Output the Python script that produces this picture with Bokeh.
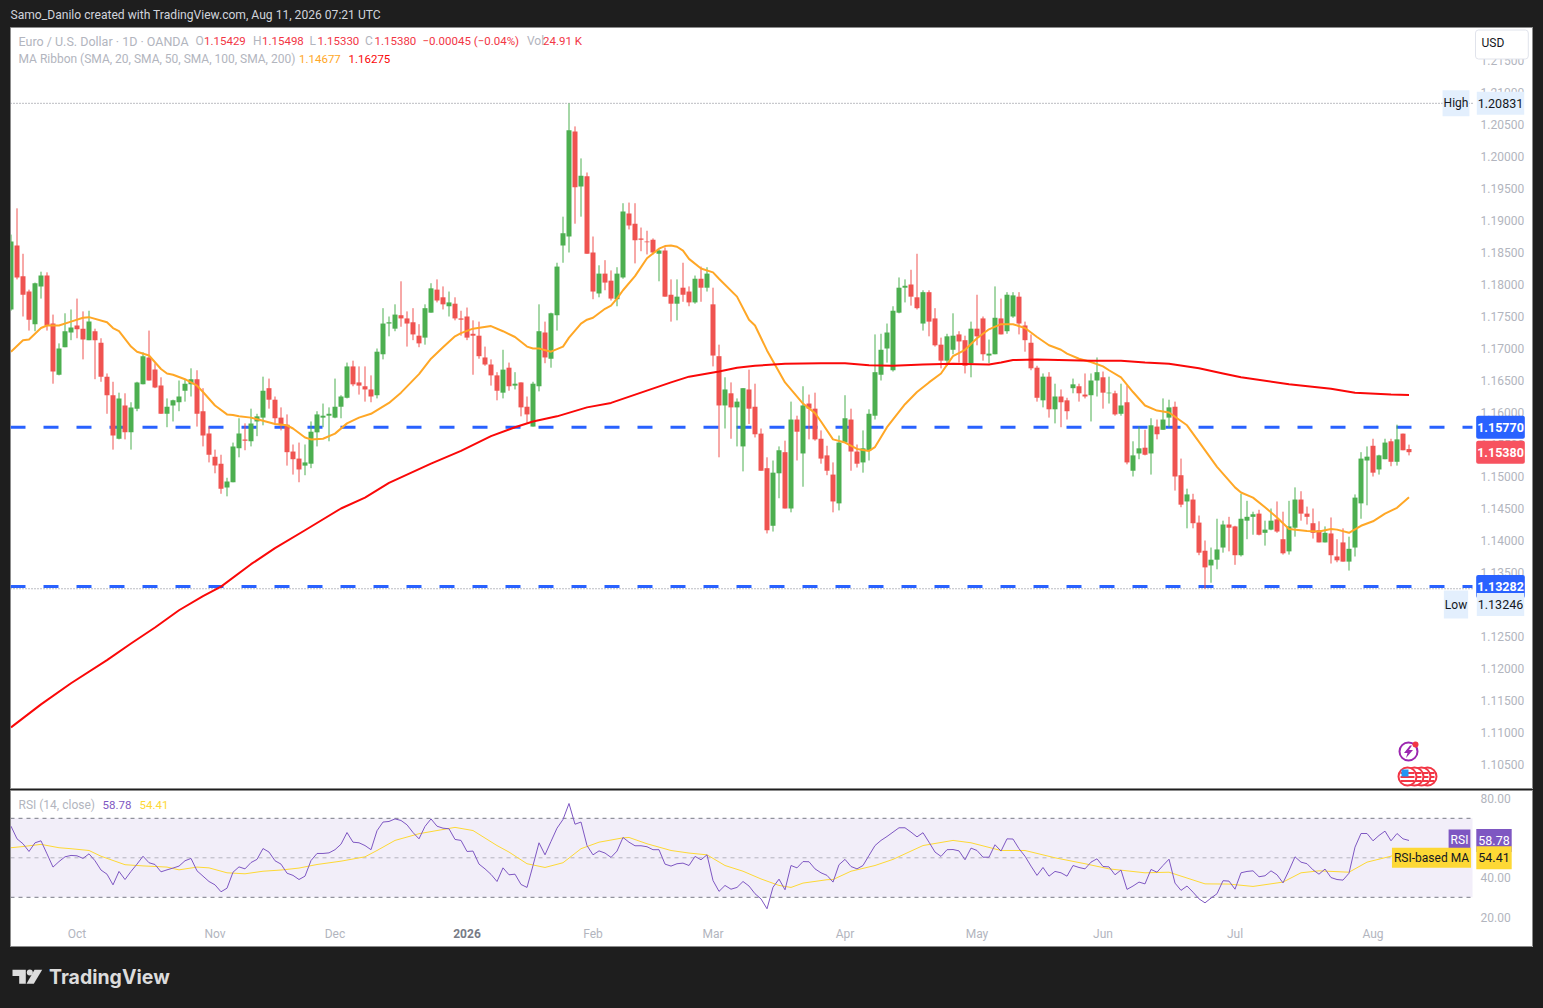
from bokeh.plotting import figure
from bokeh.layouts import column
from bokeh.models import Label, FixedTicker, NumeralTickFormatter, Range1d
from bokeh.core.properties import value
from bokeh.embed import file_html
from bokeh.resources import INLINE
import numpy as np

highs = [1.1878,1.1919,1.1848,1.1792,1.1803,1.1820,1.1819,1.1753,1.1708,1.1755,
1.1761,1.1778,1.1758,1.1759,1.1731,1.1716,1.1661,1.1648,1.1631,1.1630,
1.1616,1.1648,1.1694,1.1728,1.1677,1.1655,1.1622,1.1620,1.1650,1.1652,
1.1669,1.1666,1.1638,1.1578,1.1542,1.1534,1.1498,1.1553,1.1591,1.1583,
1.1606,1.1598,1.1656,1.1653,1.1625,1.1608,1.1597,1.1550,1.1553,1.1550,
1.1586,1.1602,1.1614,1.1608,1.1653,1.1627,1.1678,1.1681,1.1672,1.1672,
1.1658,1.1700,1.1763,1.1750,1.1769,1.1805,1.1758,1.1763,1.1738,1.1769,
1.1802,1.1808,1.1797,1.1789,1.1780,1.1759,1.1764,1.1744,1.1742,1.1703,
1.1683,1.1663,1.1698,1.1678,1.1663,1.1647,1.1625,1.1648,1.1769,1.1742,
1.1756,1.1834,1.1906,1.20831,1.2047,1.1997,1.1975,1.1875,1.1830,1.1838,
1.1822,1.1827,1.1927,1.1928,1.1927,1.1889,1.1884,1.1872,1.1855,1.1858,
1.1808,1.1808,1.1834,1.1797,1.1814,1.1828,1.1827,1.1795,1.1706,1.1655,
1.1647,1.1622,1.1638,1.1667,1.1645,1.1575,1.1530,1.1525,1.1547,1.1556,
1.1617,1.1595,1.1641,1.1628,1.1631,1.1572,1.1548,1.1522,1.1564,1.1627,
1.1606,1.1550,1.1572,1.1605,1.1722,1.1723,1.1739,1.1766,1.1811,1.1808,
1.1823,1.1848,1.1791,1.1791,1.1763,1.1717,1.1723,1.1755,1.1727,1.1720,
1.1742,1.1784,1.1750,1.1714,1.1797,1.1778,1.1788,1.1788,1.1788,1.1742,
1.1722,1.1673,1.1661,1.1663,1.1645,1.1636,1.1623,1.1653,1.1645,1.1661,
1.1661,1.1686,1.1664,1.1656,1.1634,1.1645,1.1642,1.1555,1.1578,1.1573,
1.1591,1.1589,1.1622,1.1620,1.1617,1.1528,1.1481,1.1473,1.1439,1.1400,
1.1389,1.1434,1.1431,1.1437,1.1423,1.1473,1.1462,1.1445,1.1448,1.1431,
1.1450,1.1461,1.1445,1.1462,1.1483,1.1477,1.1453,1.1450,1.1430,1.1422,
1.1436,1.1402,1.1419,1.1406,1.1472,1.1538,1.1547,1.1559,1.1534,1.1559,
1.1559,1.1581,1.1567,1.15498]

lows = [1.1759,1.1808,1.1750,1.1728,1.1727,1.1778,1.1728,1.1645,1.1658,1.1702,
1.1713,1.1716,1.1683,1.1713,1.1652,1.1648,1.1598,1.1542,1.1558,1.1558,
1.1542,1.1602,1.1644,1.1650,1.1638,1.1598,1.1577,1.1586,1.1602,1.1617,
1.1625,1.1578,1.1547,1.1522,1.1505,1.1473,1.1469,1.1491,1.1530,1.1541,
1.1547,1.1563,1.1580,1.1606,1.1581,1.1572,1.1517,1.1503,1.1491,1.1502,
1.1513,1.1547,1.1577,1.1555,1.1591,1.1591,1.1622,1.1641,1.1628,1.1617,
1.1616,1.1622,1.1683,1.1719,1.1727,1.1734,1.1703,1.1713,1.1702,1.1706,
1.1756,1.1772,1.1761,1.1750,1.1744,1.1720,1.1713,1.1659,1.1684,1.1673,
1.1642,1.1619,1.1622,1.1634,1.1636,1.1594,1.1584,1.1578,1.1633,1.1677,
1.1670,1.1728,1.1834,1.1850,1.1895,1.1906,1.1848,1.1777,1.1780,1.1791,
1.1775,1.1766,1.1809,1.1886,1.1833,1.1852,1.1847,1.1847,1.1805,1.1781,
1.1742,1.1744,1.1773,1.1766,1.1770,1.1773,1.1789,1.1672,1.1530,1.1575,
1.1559,1.1547,1.1508,1.1582,1.1561,1.1509,1.1411,1.1414,1.1466,1.1450,
1.1444,1.1525,1.1484,1.1558,1.1556,1.1520,1.1502,1.1444,1.1447,1.1553,
1.1509,1.1514,1.1506,1.1525,1.1589,1.1650,1.1678,1.1664,1.1755,1.1772,
1.1767,1.1761,1.1728,1.1719,1.1703,1.1669,1.1673,1.1691,1.1678,1.1661,
1.1655,1.1705,1.1681,1.1677,1.1691,1.1722,1.1723,1.1748,1.1722,1.1695,
1.1666,1.1617,1.1608,1.1592,1.1583,1.1577,1.1589,1.1630,1.1617,1.1622,
1.1586,1.1625,1.1606,1.1614,1.1595,1.1595,1.1519,1.1500,1.1527,1.1533,
1.1503,1.1558,1.1573,1.1577,1.1478,1.1452,1.1419,1.1419,1.1377,1.13246,
1.1334,1.1355,1.1381,1.1383,1.1362,1.1375,1.1402,1.1409,1.1408,1.1392,
1.1416,1.1412,1.1378,1.1378,1.1406,1.1431,1.1425,1.1403,1.1397,1.1397,
1.1364,1.1366,1.1367,1.1353,1.1375,1.1434,1.1455,1.1500,1.1503,1.1527,
1.1516,1.1517,1.1541,1.15330]

opens = [1.1761,1.1861,1.1813,1.1789,1.1738,1.1797,1.1814,1.1739,1.1659,1.1702,
1.1725,1.1736,1.1731,1.1713,1.1727,1.1709,1.1656,1.1627,1.1559,1.1611,
1.1569,1.1606,1.1644,1.1686,1.1667,1.1642,1.1598,1.1611,1.1616,1.1634,
1.1644,1.1652,1.1602,1.1567,1.1531,1.1520,1.1483,1.1491,1.1544,1.1558,
1.1555,1.1586,1.1592,1.1638,1.1620,1.1592,1.1581,1.1539,1.1528,1.1517,
1.1520,1.1569,1.1592,1.1595,1.1592,1.1609,1.1623,1.1672,1.1647,1.1641,
1.1636,1.1627,1.1691,1.1739,1.1731,1.1752,1.1747,1.1741,1.1720,1.1717,
1.1756,1.1792,1.1780,1.1766,1.1770,1.1747,1.1750,1.1723,1.1720,1.1686,
1.1675,1.1658,1.1631,1.1670,1.1642,1.1647,1.1609,1.1578,1.1641,1.1725,
1.1684,1.1752,1.1861,1.1875,1.2039,1.1953,1.1969,1.1850,1.1786,1.1817,
1.1806,1.1777,1.1811,1.1911,1.1895,1.1872,1.1867,1.1870,1.1848,1.1853,
1.1784,1.1770,1.1795,1.1789,1.1772,1.1809,1.1795,1.1769,1.1688,1.1611,
1.1630,1.1608,1.1547,1.1636,1.1609,1.1567,1.1513,1.1423,1.1505,1.1538,
1.1450,1.1589,1.1536,1.1614,1.1606,1.1559,1.1533,1.1503,1.1458,1.1553,
1.1589,1.1539,1.1522,1.1541,1.1595,1.1659,1.1700,1.1666,1.1756,1.1795,
1.1800,1.1780,1.1739,1.1788,1.1747,1.1706,1.1681,1.1698,1.1722,1.1713,
1.1677,1.1731,1.1747,1.1689,1.1691,1.1747,1.1727,1.1750,1.1781,1.1736,
1.1709,1.1670,1.1619,1.1656,1.1605,1.1625,1.1619,1.1638,1.1641,1.1628,
1.1627,1.1650,1.1655,1.1630,1.1630,1.1598,1.1616,1.1509,1.1536,1.1545,
1.1536,1.1578,1.1573,1.1592,1.1609,1.1502,1.1461,1.1464,1.1428,1.1384,
1.1361,1.1370,1.1389,1.1425,1.1422,1.1377,1.1431,1.1437,1.1442,1.1412,
1.1417,1.1433,1.1402,1.1383,1.1420,1.1464,1.1442,1.1427,1.1416,1.1397,
1.1411,1.1375,1.1397,1.1367,1.1389,1.1458,1.1525,1.1548,1.1511,1.1527,
1.1555,1.1523,1.1567,1.15429]

closes = [1.1867,1.1811,1.1784,1.1745,1.1802,1.1814,1.1736,1.1664,1.1700,1.1727,
1.1733,1.1730,1.1714,1.1742,1.1713,1.1656,1.1627,1.1564,1.1622,1.1569,
1.1608,1.1647,1.1688,1.1650,1.1639,1.1598,1.1609,1.1619,1.1625,1.1645,
1.1652,1.1598,1.1564,1.1534,1.1517,1.1481,1.1492,1.1547,1.1567,1.1556,
1.1583,1.1594,1.1634,1.1620,1.1591,1.1580,1.1538,1.1527,1.1511,1.1522,
1.1570,1.1597,1.1595,1.1598,1.1609,1.1625,1.1672,1.1644,1.1642,1.1636,
1.1625,1.1695,1.1739,1.1741,1.1753,1.1747,1.1739,1.1722,1.1708,1.1763,
1.1794,1.1775,1.1769,1.1772,1.1747,1.1745,1.1717,1.1720,1.1688,1.1675,
1.1658,1.1634,1.1667,1.1641,1.1645,1.1608,1.1597,1.1645,1.1727,1.1686,
1.1755,1.1828,1.1880,1.2041,1.1952,1.1970,1.1848,1.1789,1.1817,1.1803,
1.1778,1.1817,1.1914,1.1892,1.1869,1.1870,1.1866,1.1850,1.1853,1.1781,
1.1770,1.1781,1.1784,1.1772,1.1809,1.1795,1.1817,1.1689,1.1611,1.1636,
1.1608,1.1617,1.1638,1.1606,1.1566,1.1509,1.1416,1.1506,1.1541,1.1450,
1.1589,1.1570,1.1611,1.1606,1.1558,1.1528,1.1509,1.1461,1.1553,1.1591,
1.1539,1.1520,1.1544,1.1598,1.1663,1.1698,1.1725,1.1759,1.1795,1.1798,
1.1781,1.1763,1.1788,1.1742,1.1705,1.1681,1.1719,1.1720,1.1711,1.1673,
1.1731,1.1719,1.1691,1.1692,1.1748,1.1722,1.1784,1.1783,1.1739,1.1713,
1.1669,1.1623,1.1656,1.1605,1.1625,1.1616,1.1602,1.1644,1.1630,1.1625,
1.1650,1.1663,1.1631,1.1631,1.1597,1.1611,1.1522,1.1533,1.1544,1.1534,
1.1580,1.1566,1.1589,1.1608,1.1500,1.1456,1.1472,1.1427,1.1381,1.1358,
1.1370,1.1386,1.1425,1.1420,1.1377,1.1434,1.1437,1.1441,1.1409,1.1417,
1.1431,1.1414,1.1380,1.1422,1.1464,1.1442,1.1437,1.1412,1.1397,1.1412,
1.1377,1.1369,1.1367,1.1387,1.1467,1.1528,1.1531,1.1506,1.1533,1.1553,
1.1523,1.1558,1.1541,1.15380]

ma20_bar = [0,2,3,5,6,8,10,12,13,16,17,18,20,21,23,25,26,27,29,31,32,34,36,37,38,40,42,44,46,47,49,50,52,54,56,58,60,
63,65,68,70,72,74,75,77,80,82,84,86,87,88,90,92,93,95,96,97,99,100,101,102,104,106,108,109,110,111,112,113,115,117,118,121,123,
124,126,129,132,134,135,137,139,141,143,144,146,149,151,153,155,157,159,161,163,165,167,169,171,173,175,176,178,180,182,
183,185,187,189,191,193,196,198,201,204,205,207,209,211,213,216,218,220,221,223,225,227,229,231,233]
ma20 = [1.1695,1.1713,1.1714,1.1732,1.1736,1.1736,1.1742,1.1748,1.1749,1.1741,1.1732,1.1727,1.1703,1.1695,1.1689,1.1668,1.1661,1.1659,1.1652,1.1642,1.1632,1.1611,1.1597,1.1596,1.1594,1.1592,1.1587,1.1582,1.1580,1.1575,1.1561,1.1558,1.1559,1.1567,1.1583,1.1592,1.1598,
1.1615,1.1631,1.1660,1.1684,1.1702,1.1719,1.1724,1.1731,1.1735,1.1727,1.1718,1.1703,1.1700,1.1700,1.1695,1.1703,1.1717,1.1739,1.1745,1.1748,1.1762,1.1767,1.1778,1.1791,1.1813,1.1841,1.1856,1.1860,1.1861,1.1859,1.1853,1.1840,1.1825,1.1819,1.1809,1.1781,1.1745,
1.1736,1.1697,1.1647,1.1614,1.1599,1.1586,1.1558,1.1553,1.1543,1.1540,1.1546,1.1577,1.1613,1.1632,1.1647,1.1661,1.1688,1.1698,1.1716,1.1730,1.1738,1.1738,1.1732,1.1718,1.1705,1.1698,1.1692,1.1684,1.1679,1.1672,
1.1666,1.1655,1.1632,1.1611,1.1603,1.1600,1.1580,1.1554,1.1515,1.1483,1.1475,1.1467,1.1452,1.1436,1.1418,1.1415,1.1414,1.1418,1.1417,1.1412,1.1423,1.1430,1.1442,1.1451,1.14677]

ma200_bar = [0,5,10,16,20,24,28,32,35,40,44,49,55,59,63,70,75,80,84,87,91,96,100,105,110,113,118,121,124,129,135,139,143,147,152,157,163,165,167,171,180,185,189,193,198,202,205,213,220,224,230,233]
ma200 = [1.1108,1.1144,1.1177,1.1213,1.1239,1.1264,1.1291,1.1313,1.1328,1.1363,1.1388,1.1416,1.1450,1.1467,1.1490,1.1520,1.1540,1.1563,1.1577,1.1586,1.1594,1.1608,1.1615,1.1631,1.1647,1.1656,1.1664,1.1670,1.1673,1.1676,1.1677,1.1677,1.1674,1.1673,1.1675,1.1676,1.1675,1.1678,1.1682,1.1683,1.1681,1.1681,1.1678,1.1676,1.1669,1.1661,1.1655,1.1644,1.1637,1.1631,1.1628,1.16275]

rsi = [66.0,59.6,57.1,53.2,57.6,58.6,52.0,45.3,48.1,50.5,
51.2,51.0,49.7,52.0,48.5,43.8,41.7,36.3,43.1,39.0,
43.1,46.8,50.8,47.5,46.6,42.9,43.9,44.8,45.8,48.5,
49.7,43.4,40.7,38.0,36.3,32.8,34.6,42.7,45.4,44.4,
47.6,49.2,54.7,52.9,48.5,46.8,42.2,41.1,39.0,40.7,
48.6,52.2,52.2,52.5,54.1,56.9,62.8,57.9,57.6,56.2,
54.1,63.7,68.1,68.4,69.7,68.9,66.7,62.8,59.6,65.9,
69.7,66.0,65.0,64.7,59.3,58.8,53.2,53.4,46.8,44.4,
41.6,38.0,44.9,41.4,41.7,36.5,35.0,46.1,57.6,51.5,
58.3,65.0,69.4,77.5,67.0,68.1,56.2,51.5,53.5,52.4,
50.2,53.4,60.3,57.9,56.1,56.1,55.6,54.1,54.1,46.8,
45.8,47.0,47.3,46.1,50.7,49.0,51.5,38.5,33.0,36.0,
34.1,35.0,38.0,35.7,31.8,29.2,24.2,35.1,39.2,33.8,
46.1,44.9,48.1,48.0,44.4,42.4,41.1,37.7,46.5,49.2,
45.6,44.4,46.1,51.2,56.2,58.8,60.8,63.0,65.2,65.2,
63.0,60.6,62.7,57.9,52.9,50.7,54.1,54.2,53.5,49.0,
54.9,53.7,50.3,50.3,56.6,53.4,59.6,59.5,54.6,50.8,
45.8,41.1,45.1,40.7,43.1,42.4,40.7,46.1,45.1,44.4,
47.8,49.5,45.6,45.4,41.4,43.8,34.0,35.7,37.7,36.8,
44.1,42.7,46.1,49.3,37.2,33.5,35.7,32.6,29.2,27.2,
29.6,31.8,38.4,38.2,34.1,42.4,43.1,43.4,40.4,40.9,
43.4,41.4,37.3,43.6,50.5,47.8,47.0,43.9,41.7,44.3,
40.0,39.0,38.7,42.2,55.4,62.3,62.3,58.6,61.3,63.5,
58.6,62.3,59.6,58.78]

rsi_ma_bar = [0,2,5,8,10,13,15,19,22,26,28,31,33,36,39,42,45,48,51,55,59,61,64,68,71,74,77,81,83,86,89,92,95,98,102,103,106,110,113,116,119,122,125,
128,130,132,136,137,140,144,147,152,157,160,165,169,174,179,183,189,193,199,203,207,212,215,218,223,226,230,233]
rsi_ma = [55.1,55.7,56.8,55.1,54.6,53.7,50.8,46.5,45.9,45.3,43.9,45.3,44.9,42.4,41.9,43.2,43.8,44.8,46.6,48.3,50.5,53.7,58.8,62.2,63.8,65.4,63.8,56.2,52.9,47.0,45.1,47.5,54.6,57.9,60.1,60.3,57.1,53.7,52.4,51.5,46.1,43.2,39.3,
36.0,35.0,37.2,38.9,39.0,43.2,46.1,49.2,56.2,58.8,57.6,53.7,53.7,50.0,47.0,44.4,42.4,42.7,36.8,36.7,35.5,37.7,42.4,43.4,42.7,47.8,50.8,54.41]

assert len(highs) == len(lows) == len(opens) == len(closes) == len(rsi) == 234
assert len(ma20_bar) == len(ma20) and len(ma200_bar) == len(ma200) and len(rsi_ma_bar) == len(rsi_ma)

price_ticks = [1.105,1.11,1.115,1.12,1.125,1.13,1.135,1.14,1.145,1.15,1.155,1.16,1.165,1.17,1.175,1.18,1.185,1.19,1.195,1.2,1.205,1.21,1.215]
rsi_ticks = [20,40,60,80]
month_bars = [11,34,54,97,117,139,161,182,204,227]
month_labels = ["Oct","Nov","Dec","Feb","Mar","Apr","May","Jun","Jul","Aug"]
year_bar = 76
year_label = "2026"
resistance_level = 1.15770
support_level = 1.13282
high_level = 1.20831
low_level = 1.13246
rsi_bands = [70, 50, 30]

UP, DOWN = "#4caf50", "#ef5350"
GRAY = "#b2b5be"
DARK = "#1e1e1e"
MA_RED = "#fa0808"
FONT = "Roboto"

def bar_of(px):
    return (px - 10.5) / 6
def price_of(py):
    return 1.15 + (476 - py) / 6400
def rsi_of(py):
    return 50 + (857.3 - py) / 1.975

XR = (bar_of(10), bar_of(1533))
PANE_L, PANE_R = bar_of(10), bar_of(1472)

def base(width, height, **kw):
    p = figure(width=width, height=height, toolbar_location=None, output_backend="svg",
               min_border_left=0, min_border_right=0, min_border_top=0, min_border_bottom=0, **kw)
    p.grid.visible = False
    p.outline_line_color = None
    return p

def tag(p, text, x, y, bg=None, fg="#ffffff", size="12px", align="center", y_units="data", pad=0, style="normal", border=None, radius=0):
    p.add_layout(Label(x=x, y=y, x_units="canvas", y_units=y_units, text=text, text_color=fg, text_font=FONT,
                       text_font_size=size, text_font_style=style, text_align=align, text_baseline="middle",
                       background_fill_color=bg, padding=pad, border_radius=radius, border_line_color=border,
                       level="overlay"))

def style_axis(a, size="12px", standoff=8):
    a.axis_line_color = None
    a.major_tick_line_color = None
    a.minor_tick_line_color = None
    a.major_tick_out = 0
    a.major_tick_in = 0
    a.minor_tick_out = 0
    a.minor_tick_in = 0
    a.major_label_standoff = standoff
    a.major_label_text_color = GRAY
    a.major_label_text_font = FONT
    a.major_label_text_font_size = size

def hline(p, lvl, **kw):
    p.segment([PANE_L], [lvl], [PANE_R], [lvl], level="underlay", **kw)

# header
head = base(1527, 18, x_axis_location=None, y_axis_location=None, background_fill_color=DARK, border_fill_color=DARK)
tag(head, "Samo_Danilo created with TradingView.com, Aug 11, 2026 07:21 UTC", 2, 6, fg="#d1d4dc", align="left", y_units="canvas", size="12.1px")

# price pane
p = base(1523, 762, x_range=Range1d(*XR), y_range=Range1d(price_of(789), price_of(27)),
         x_axis_location=None, y_axis_location="right", background_fill_color="#ffffff", border_fill_color="#ffffff")
p.margin = (0, 0, 0, 2)
p.outline_line_color = "#8c8c8c"
ax = p.yaxis[0]
ax.fixed_location = PANE_R
ax.ticker = FixedTicker(ticks=price_ticks)
ax.formatter = NumeralTickFormatter(format="0.00000")
style_axis(ax)

for lvl in (high_level, low_level):
    hline(p, lvl, line_color="#787b86", line_width=1, line_dash="1 2")
for lvl in (resistance_level, support_level):
    hline(p, lvl, line_color="#2962ff", line_width=3, line_dash="15 18")

bars = np.arange(len(opens))
o, c = np.array(opens), np.array(closes)
up = c >= o
colors = [UP if u else DOWN for u in up]
p.segment(bars, highs, bars, lows, line_color=colors, line_width=1)
p.vbar(bars, width=5 / 6, top=np.maximum(o, c), bottom=np.minimum(o, c), fill_color=colors, line_color=None)
p.line(ma20_bar, ma20, line_color="#ffa726", line_width=2, line_join="round")
p.line(ma200_bar, ma200, line_color=MA_RED, line_width=2, line_join="round")

# legend texts
y1, y2 = 13.5, 31.5
for x, t, col, sz in [(8, "Euro / U.S. Dollar · 1D · OANDA", GRAY, "12.5px"), (185, "O", GRAY, "12px"), (193.5, "1.15429", "#f23645", "11.5px"),
                  (242.5, "H", GRAY, "12px"), (251.5, "1.15498", "#f23645", "11.5px"), (299, "L", GRAY, "12px"), (307, "1.15330", "#f23645", "11.5px"),
                  (354.5, "C", GRAY, "12px"), (364, "1.15380", "#f23645", "11.5px"), (412, "−0.00045 (−0.04%)", "#f23645", "11.5px"),
                  (516.5, "Vol", GRAY, "12px"), (532.5, "24.91 K", "#f23645", "11.5px")]:
    tag(p, t, x, y1, fg=col, size=sz, align="left", y_units="canvas")
for x, t, col, sz in [(8, "MA Ribbon (SMA, 20, SMA, 50, SMA, 100, SMA, 200)", GRAY, "12px"), (288.5, "1.14677", "#ffa726", "11.5px"), (338, "1.16275", MA_RED, "11.5px")]:
    tag(p, t, x, y2, fg=col, size=sz, align="left", y_units="canvas")

# price scale tags
TAGX = 1490
tag(p, "USD", 1465, 17, bg="#ffffff", fg="#131722", align="left", y_units="canvas", pad=(6, 24, 6, 9), border="#e0e3eb", radius=3)
tag(p, "1.15770", TAGX, resistance_level, bg="#2962ff", pad=(1, 7), radius=2, style="bold", size="12.5px")
tag(p, "1.15380", TAGX, closes[-1], bg="#f7525f", pad=(1, 7), radius=2, style="bold", size="12.5px")
tag(p, "1.13282", TAGX, support_level, bg="#2962ff", pad=(1, 7), radius=2, style="bold", size="12.5px")
tag(p, "High", 1445.5, high_level, bg="#e3effd", fg="#131722", pad=(1, 6))
tag(p, "1.20831", TAGX, high_level, bg="#e3effd", fg="#131722", pad=(1, 7), size="12.5px")
tag(p, "Low", 1445.5, price_of(604), bg="#e3effd", fg="#131722", pad=(1, 7))
tag(p, "1.13246", TAGX, price_of(604), bg="#e3effd", fg="#131722", pad=(1, 7), size="12.5px")

# event icons
p.scatter([bar_of(1408)], [price_of(751)], size=18, marker="circle", fill_color="#ffffff", line_color="#9c27b0", line_width=2)
p.patch([bar_of(v) for v in (1409.5, 1403.5, 1407, 1405.5, 1412.5, 1408.5, 1411.5)],
        [price_of(v) for v in (745, 752.5, 752.5, 757.5, 749.5, 749.5, 745)], fill_color="#9c27b0", line_color=None)
p.scatter([bar_of(1415)], [price_of(744)], size=6, marker="circle", fill_color="#f23645", line_color=None)
for cx in (1427, 1421, 1414, 1407):
    p.scatter([bar_of(cx)], [price_of(776)], size=18, marker="circle", fill_color="#ffffff", line_color="#f23645", line_width=2)
    p.segment([bar_of(cx - 7)] * 3, [price_of(v) for v in (772.5, 776.5, 780.5)],
              [bar_of(cx + 7)] * 3, [price_of(v) for v in (772.5, 776.5, 780.5)], line_color="#f23645", line_width=2)
p.quad(left=[bar_of(1401)], right=[bar_of(1408)], top=[price_of(769)], bottom=[price_of(776)], fill_color="#2196f3", line_color=None)

# RSI pane
r = base(1523, 157, x_range=Range1d(*XR), y_range=Range1d(rsi_of(947), rsi_of(790)),
         y_axis_location="right", x_axis_location="below", background_fill_color="#ffffff", border_fill_color="#ffffff")
r.margin = (0, 0, 0, 2)
r.outline_line_color = "#8c8c8c"
ay = r.yaxis[0]
ay.fixed_location = PANE_R
ay.ticker = FixedTicker(ticks=rsi_ticks)
ay.formatter = NumeralTickFormatter(format="0.00")
style_axis(ay)
ab = r.xaxis[0]
ab.fixed_location = rsi_of(921)
ab.ticker = FixedTicker(ticks=month_bars)
ab.major_label_overrides = dict(zip(month_bars, month_labels))
style_axis(ab, standoff=5)
r.add_layout(Label(x=year_bar, y=143, x_units="data", y_units="canvas", text=year_label, text_color="#787b86",
                   text_font=FONT, text_font_size="12px", text_font_style="bold", text_align="center", text_baseline="middle",
                   level="overlay"))

r.quad(left=[PANE_L], right=[PANE_R], bottom=[rsi_bands[2]], top=[rsi_bands[0]], fill_color="#7e57c2", fill_alpha=0.1, line_color=None, level="underlay")
for lvl, al in zip(rsi_bands, (1, 0.5, 1)):
    hline(r, lvl, line_color="#787b86", line_alpha=al, line_width=1, line_dash="4 4")
r.line(rsi_ma_bar, rsi_ma, line_color="#fdd835", line_width=1, line_join="round")
r.line(bars, rsi, line_color="#7e57c2", line_width=1, line_join="round")

for x, t, col, sz in [(8, "RSI (14, close)", GRAY, "12px"), (92, "58.78", "#7e57c2", "11.5px"), (129, "54.41", "#fdd835", "11.5px")]:
    tag(r, t, x, 14.5, fg=col, size=sz, align="left", y_units="canvas")
tag(r, "RSI", 1449, rsi[-1], bg="#7e57c2", pad=(2, 4))
tag(r, "58.78", 1483.5, rsi[-1], bg="#7e57c2", pad=(2, 7), size="12.5px")
tag(r, "RSI-based MA", 1421, 50, bg="#fdd835", fg="#131722", pad=(2, 3))
tag(r, "54.41", 1483.5, 50, bg="#fdd835", fg="#131722", pad=(2, 7), size="12.5px")

# footer
f = base(1527, 50, x_range=Range1d(8, 1535), y_range=Range1d(1000, 948), x_axis_location=None, y_axis_location=None,
         background_fill_color=DARK, border_fill_color=DARK)
LOGO = "#dcdcdc"
f.patch([12, 25.3, 25.3, 18.7, 18.7, 12], [970, 970, 984.7, 984.7, 976.7, 976.7], fill_color=LOGO, line_color=None)
f.patch([34, 41.7, 33.3, 26], [970, 970, 984.7, 984.7], fill_color=LOGO, line_color=None)
f.scatter([29.3], [973], size=6, marker="circle", fill_color=LOGO, line_color=None)
f.text([48.5], [978], text=["TradingView"], text_color=LOGO, text_font=value("Inter"), text_font_size="19.5px",
       text_font_style="bold", text_baseline="middle", text_align="left")

page = column(head, p, r, f, spacing=1)
html = file_html(page, INLINE, title="EUR/USD")
html = html.replace("<head>", "<head><style>html,body{background:#1e1e1e!important;overflow:hidden;}body{margin:8px!important;}</style>", 1)
open("out.html", "w").write(html)
